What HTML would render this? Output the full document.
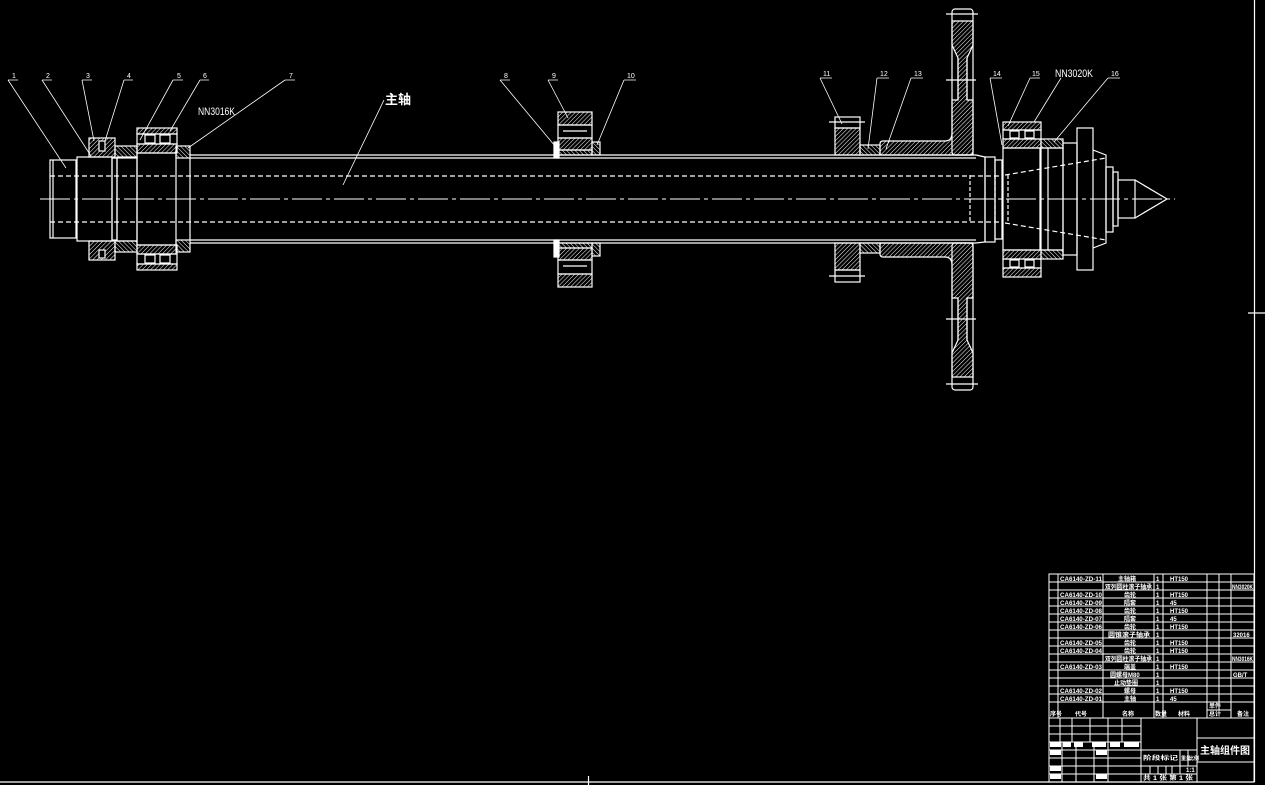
<!DOCTYPE html>
<html><head><meta charset="utf-8"><style>
html,body{margin:0;padding:0;background:#000;}
svg{display:block}
text{font-family:"Liberation Sans","Noto Sans CJK SC",sans-serif;fill:#fff}
</style></head><body>
<svg width="1265" height="785" viewBox="0 0 1265 785" xmlns="http://www.w3.org/2000/svg">
<defs>
<pattern id="h" width="3" height="3" patternUnits="userSpaceOnUse" patternTransform="rotate(45)">
<line x1="0" y1="0" x2="0" y2="3" stroke="#fff" stroke-width="1"/></pattern>
<pattern id="h2" width="3" height="3" patternUnits="userSpaceOnUse" patternTransform="rotate(-45)">
<line x1="0" y1="0" x2="0" y2="3" stroke="#fff" stroke-width="1"/></pattern>
</defs>
<rect width="1265" height="785" fill="#000"/>
<g stroke="#fff" stroke-width="1.2" fill="none">
<line x1="1254.5" y1="0" x2="1254.5" y2="782"/>
<line x1="0" y1="782" x2="1254.5" y2="782"/>
<line x1="1248" y1="313" x2="1265" y2="313"/>
<line x1="588.5" y1="776" x2="588.5" y2="785"/>

<line x1="190" y1="155" x2="976" y2="155"/>
<line x1="190" y1="158" x2="976" y2="158"/>
<line x1="190" y1="240" x2="976" y2="240"/>
<line x1="190" y1="243" x2="976" y2="243"/>
<line x1="50" y1="176" x2="1003" y2="176" stroke-dasharray="5,3"/>
<line x1="50" y1="222" x2="1003" y2="222" stroke-dasharray="5,3"/>
<line x1="40" y1="199" x2="1175" y2="199" stroke-dasharray="30,4,4,4" stroke-width="1"/>

<rect x="50" y="160" width="26" height="78"/>
<line x1="53" y1="160" x2="53" y2="238"/>
<rect x="77" y="157" width="35" height="84"/>
<rect x="112" y="158" width="5" height="82"/>
<rect x="117" y="157" width="20" height="84"/>
<rect x="89" y="138" width="26" height="19" fill="url(#h)"/>
<rect x="89" y="241" width="26" height="19" fill="url(#h)"/>
<rect x="99" y="141" width="6" height="10" fill="#000"/>
<rect x="99" y="250" width="6" height="8" fill="#000"/>
<rect x="115" y="146" width="22" height="12" fill="url(#h2)"/>
<rect x="115" y="241" width="22" height="11" fill="url(#h2)"/>
<rect x="137" y="128" width="40" height="6" fill="url(#h)"/>
<rect x="137" y="134" width="40" height="10"/>
<rect x="145" y="135" width="10" height="8"/><rect x="160" y="135" width="10" height="8"/>
<rect x="137" y="144" width="40" height="9" fill="url(#h)"/>
<rect x="137" y="153" width="39" height="92"/>
<rect x="137" y="245" width="40" height="9" fill="url(#h)"/>
<rect x="137" y="254" width="40" height="10"/>
<rect x="145" y="255" width="10" height="8"/><rect x="160" y="255" width="10" height="8"/>
<rect x="137" y="264" width="40" height="6" fill="url(#h)"/>
<rect x="176" y="146" width="14" height="12" fill="url(#h2)"/>
<rect x="176" y="240" width="14" height="12" fill="url(#h2)"/>
<line x1="190" y1="158" x2="190" y2="240"/>

<rect x="554" y="142" width="5" height="16" fill="#fff"/>
<rect x="554" y="240" width="5" height="17" fill="#fff"/>
<rect x="558" y="112" width="34" height="13" fill="url(#h)"/>
<rect x="558" y="125" width="34" height="13"/>
<line x1="563" y1="131" x2="587" y2="131"/>
<rect x="558" y="138" width="34" height="12" fill="url(#h)"/>
<rect x="558" y="150" width="34" height="5" fill="url(#h2)"/>
<rect x="592" y="142" width="8" height="13" fill="url(#h2)"/>
<rect x="558" y="243" width="34" height="5" fill="url(#h2)"/>
<rect x="592" y="243" width="8" height="13" fill="url(#h2)"/>
<rect x="558" y="248" width="34" height="12" fill="url(#h)"/>
<rect x="558" y="260" width="34" height="14"/>
<line x1="563" y1="266" x2="587" y2="266"/>
<rect x="558" y="274" width="34" height="13" fill="url(#h)"/>

<rect x="835" y="117" width="25" height="11"/>
<rect x="835" y="128" width="25" height="27" fill="url(#h)"/>
<line x1="829" y1="122" x2="865" y2="122"/>
<rect x="835" y="243" width="25" height="27" fill="url(#h)"/>
<rect x="835" y="270" width="25" height="12"/>
<line x1="829" y1="276" x2="865" y2="276"/>
<rect x="860" y="145" width="20" height="10" fill="url(#h2)"/>
<rect x="860" y="243" width="20" height="10" fill="url(#h2)"/>
<path d="M880 155 L880 144 Q880 141 883 141 L945 141 Q952 141 952 133 L952 100 L958 100 L958 58 L952 45 L952 21 L973 21 L973 45 L967 58 L967 100 L973 100 L973 155 Z" fill="url(#h)"/>
<path d="M880 243 L880 254 Q880 257 883 257 L945 257 Q952 257 952 265 L952 298 L958 298 L958 340 L952 353 L952 377 L973 377 L973 353 L967 340 L967 298 L973 298 L973 243 Z" fill="url(#h)"/>
<rect x="952" y="9" width="21" height="146" rx="3"/>
<rect x="952" y="243" width="21" height="147" rx="3"/>
<line x1="958" y1="58" x2="958" y2="100"/><line x1="967" y1="58" x2="967" y2="100"/>
<line x1="958" y1="298" x2="958" y2="340"/><line x1="967" y1="298" x2="967" y2="340"/>
<line x1="946" y1="14" x2="978" y2="14"/><line x1="946" y1="80" x2="976" y2="80"/>
<line x1="946" y1="384" x2="978" y2="384"/><line x1="946" y1="319" x2="976" y2="319"/>

<path d="M976 155 L985 157 L985 242 L976 243"/>
<rect x="985" y="157" width="10" height="85"/>
<rect x="995" y="160" width="7" height="79"/>
<line x1="970" y1="175" x2="970" y2="223" stroke-dasharray="4,2"/>
<line x1="995" y1="175" x2="995" y2="223" stroke-dasharray="4,2"/>
<rect x="1003" y="122" width="38" height="8" fill="url(#h)"/>
<rect x="1003" y="130" width="38" height="9"/>
<rect x="1010" y="131" width="9" height="7"/><rect x="1025" y="131" width="9" height="7"/>
<rect x="1003" y="139" width="38" height="9" fill="url(#h)"/>
<rect x="1003" y="148" width="37" height="102"/>
<rect x="1003" y="250" width="38" height="9" fill="url(#h)"/>
<rect x="1003" y="259" width="38" height="9"/>
<rect x="1010" y="260" width="9" height="7"/><rect x="1025" y="260" width="9" height="7"/>
<rect x="1003" y="268" width="38" height="9" fill="url(#h)"/>
<rect x="1041" y="139" width="22" height="9" fill="url(#h2)"/>
<rect x="1041" y="250" width="22" height="9" fill="url(#h2)"/>
<rect x="1041" y="148" width="22" height="102"/>
<line x1="1048" y1="148" x2="1048" y2="250"/>
<rect x="1063" y="143" width="14" height="112"/>
<rect x="1077" y="128" width="16" height="142"/>
<path d="M1093 150 L1106 155 L1106 243 L1093 248"/>
<rect x="1106" y="167" width="7" height="65"/>
<rect x="1113" y="172" width="5" height="54"/>
<rect x="1118" y="180" width="17" height="38"/>
<path d="M1135 180 L1167 199 L1135 218"/>
<line x1="1005" y1="175" x2="1106" y2="158" stroke-dasharray="5,3"/>
<line x1="1005" y1="223" x2="1106" y2="240" stroke-dasharray="5,3"/>
<line x1="1008" y1="175" x2="1008" y2="223" stroke-dasharray="4,2"/>
</g>

<g stroke="#fff" stroke-width="0.8" fill="none">
<path d="M8 80 H18 M8 80 L66 168"/>
<path d="M42 80 H52 M42 80 L91 156"/>
<path d="M82 80 H92 M82 80 L94 141"/>
<path d="M124 80 H133 M124 80 L105 141"/>
<path d="M173 80 H183 M173 80 L140 140"/>
<path d="M200 80 H209 M200 80 L170 131"/>
<path d="M285 80 H295 M285 80 L188 148"/>
<path d="M384 100 L343 185"/>
<path d="M500 80 H510 M500 80 L555 146"/>
<path d="M548 80 H558 M548 80 L568 118"/>
<path d="M624 80 H636 M624 80 L597 145"/>
<path d="M820 78 H832 M820 78 L842 124"/>
<path d="M877 78 H889 M877 78 L868 149"/>
<path d="M911 78 H923 M911 78 L886 149"/>
<path d="M990 78 H1002 M990 78 L1002 145"/>
<path d="M1030 78 H1040 M1030 78 L1008 126"/>
<path d="M1061 78 L1034 122"/>
<path d="M1108 78 H1120 M1108 78 L1054 142"/>
</g>
<g font-size="7">
<text x="12" y="78">1</text><text x="46" y="78">2</text><text x="86" y="78">3</text><text x="127" y="78">4</text>
<text x="177" y="78">5</text><text x="203" y="78">6</text><text x="289" y="78">7</text>
<text x="504" y="78">8</text><text x="552" y="78">9</text><text x="627" y="78">10</text>
<text x="823" y="76">11</text><text x="880" y="76">12</text><text x="914" y="76">13</text>
<text x="993" y="76">14</text><text x="1032" y="76">15</text><text x="1111" y="76">16</text>
</g>
<text x="198" y="115" font-size="11" textLength="37" lengthAdjust="spacingAndGlyphs">NN3016K</text>
<text x="1055" y="77" font-size="11" textLength="38" lengthAdjust="spacingAndGlyphs">NN3020K</text>
<text x="385" y="104" font-size="13" font-weight="bold">主轴</text>

<g stroke="#fff" stroke-width="1" fill="none">
<rect x="1049" y="574" width="205" height="208"/>
<line x1="1058" y1="574" x2="1058" y2="718"/>
<line x1="1103" y1="574" x2="1103" y2="718"/>
<line x1="1154" y1="574" x2="1154" y2="718"/>
<line x1="1163" y1="574" x2="1163" y2="718"/>
<line x1="1207" y1="574" x2="1207" y2="718"/>
<line x1="1219" y1="574" x2="1219" y2="710"/>
<line x1="1231" y1="574" x2="1231" y2="718"/>
<path d="M1049 582H1254M1049 590H1254M1049 598H1254M1049 606H1254M1049 614H1254M1049 622H1254M1049 630H1254M1049 638H1254M1049 646H1254M1049 654H1254M1049 662H1254M1049 670H1254M1049 678H1254M1049 686H1254M1049 694H1254M1049 702H1254M1049 718H1254M1207 710H1231"/>
<line x1="1141" y1="718" x2="1141" y2="782"/>
<line x1="1197" y1="718" x2="1197" y2="782"/>
<path d="M1197 738H1254M1197 762H1254"/>
<path d="M1049 726H1141M1049 734H1141M1049 742H1141M1049 750H1141M1049 758H1141M1049 766H1141M1049 774H1141"/>
<path d="M1060 718V742M1072 718V742M1090 718V742M1108 718V742M1122 718V742"/>
<path d="M1062 742V782M1076 742V782M1094 742V782M1108 742V782"/>
<path d="M1141 750H1197M1141 766H1197M1141 774H1197"/>
<path d="M1180 750V774M1188 750V766M1150 766V774M1158 766V774M1166 766V774M1172 766V774"/>
</g>
<g fill="#fff">
<rect x="1050" y="742" width="11" height="5"/><rect x="1063" y="742" width="8" height="5"/><rect x="1074" y="742" width="9" height="5"/>
<rect x="1092" y="742" width="14" height="5"/><rect x="1110" y="742" width="10" height="5"/><rect x="1124" y="742" width="15" height="5"/>
<rect x="1050" y="750" width="11" height="5"/><rect x="1096" y="750" width="11" height="5"/>
<rect x="1050" y="766" width="11" height="5"/><rect x="1050" y="774" width="11" height="5"/><rect x="1096" y="774" width="11" height="5"/>
</g>
<g font-size="6" font-weight="bold">
<text x="1060" y="581" textLength="42" lengthAdjust="spacingAndGlyphs">CA6140-ZD-11</text><text x="1118" y="581">主轴箱</text><text x="1156" y="581">1</text><text x="1170" y="581">HT150</text>
<text x="1105" y="589" textLength="47" lengthAdjust="spacingAndGlyphs">双列圆柱滚子轴承</text><text x="1156" y="589">1</text><text x="1232" y="589" textLength="21" lengthAdjust="spacingAndGlyphs">NN3020K</text>
<text x="1060" y="597" textLength="42" lengthAdjust="spacingAndGlyphs">CA6140-ZD-10</text><text x="1124" y="597">齿轮</text><text x="1156" y="597">1</text><text x="1170" y="597">HT150</text>
<text x="1060" y="605" textLength="42" lengthAdjust="spacingAndGlyphs">CA6140-ZD-09</text><text x="1124" y="605">隔套</text><text x="1156" y="605">1</text><text x="1170" y="605">45</text>
<text x="1060" y="613" textLength="42" lengthAdjust="spacingAndGlyphs">CA6140-ZD-08</text><text x="1124" y="613">齿轮</text><text x="1156" y="613">1</text><text x="1170" y="613">HT150</text>
<text x="1060" y="621" textLength="42" lengthAdjust="spacingAndGlyphs">CA6140-ZD-07</text><text x="1124" y="621">隔套</text><text x="1156" y="621">1</text><text x="1170" y="621">45</text>
<text x="1060" y="629" textLength="42" lengthAdjust="spacingAndGlyphs">CA6140-ZD-06</text><text x="1124" y="629">齿轮</text><text x="1156" y="629">1</text><text x="1170" y="629">HT150</text>
<text x="1108" y="637" textLength="42" lengthAdjust="spacingAndGlyphs">圆锥滚子轴承</text><text x="1156" y="637">1</text><text x="1233" y="637">32016</text>
<text x="1060" y="645" textLength="42" lengthAdjust="spacingAndGlyphs">CA6140-ZD-05</text><text x="1124" y="645">齿轮</text><text x="1156" y="645">1</text><text x="1170" y="645">HT150</text>
<text x="1060" y="653" textLength="42" lengthAdjust="spacingAndGlyphs">CA6140-ZD-04</text><text x="1124" y="653">齿轮</text><text x="1156" y="653">1</text><text x="1170" y="653">HT150</text>
<text x="1105" y="661" textLength="47" lengthAdjust="spacingAndGlyphs">双列圆柱滚子轴承</text><text x="1156" y="661">1</text><text x="1232" y="661" textLength="21" lengthAdjust="spacingAndGlyphs">NN3016K</text>
<text x="1060" y="669" textLength="42" lengthAdjust="spacingAndGlyphs">CA6140-ZD-03</text><text x="1124" y="669">端盖</text><text x="1156" y="669">1</text><text x="1170" y="669">HT150</text>
<text x="1110" y="677">圆螺母M80</text><text x="1156" y="677">1</text><text x="1233" y="677">GB/T</text>
<text x="1114" y="685">止动垫圈</text><text x="1156" y="685">1</text>
<text x="1060" y="693" textLength="42" lengthAdjust="spacingAndGlyphs">CA6140-ZD-02</text><text x="1124" y="693">螺母</text><text x="1156" y="693">1</text><text x="1170" y="693">HT150</text>
<text x="1060" y="701" textLength="42" lengthAdjust="spacingAndGlyphs">CA6140-ZD-01</text><text x="1124" y="701">主轴</text><text x="1156" y="701">1</text><text x="1170" y="701">45</text>
<text x="1050" y="716">序号</text><text x="1075" y="716">代号</text><text x="1122" y="716">名称</text><text x="1155" y="716">数量</text><text x="1178" y="716">材料</text>
<text x="1209" y="708">单件</text><text x="1209" y="716">总计</text><text x="1237" y="716">备注</text>
<text x="1143" y="760" textLength="35" lengthAdjust="spacingAndGlyphs">阶段标记</text><text x="1181" y="760" font-size="5">重量</text><text x="1189" y="760" font-size="5">比例</text>
<text x="1186" y="772">1:1</text>
<text x="1143" y="780" textLength="50" lengthAdjust="spacingAndGlyphs">共 1 张 第 1 张</text>
</g>
<text x="1200" y="754" font-size="10" font-weight="bold">主轴组件图</text>
</svg>
</body></html>
